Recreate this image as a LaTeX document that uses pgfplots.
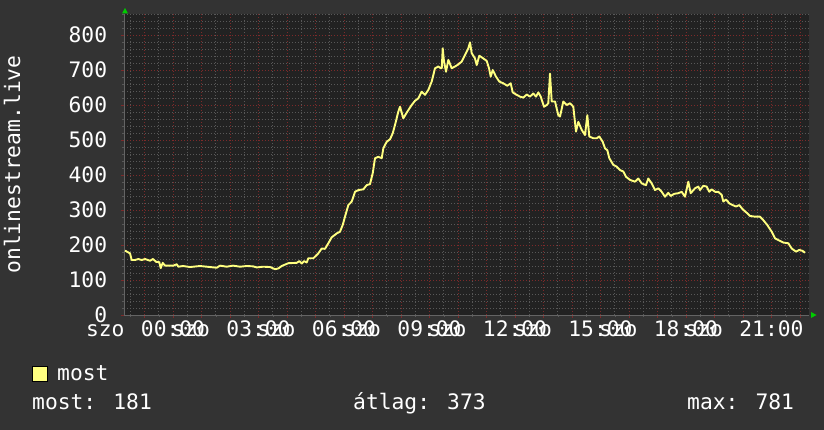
\documentclass[border=0pt]{standalone}
\usepackage{fontspec}
\usepackage{pgfplots}
\pgfplotsset{compat=1.18}
\setmainfont{DejaVu Sans Mono}

\definecolor{bg}{HTML}{333333}
\definecolor{plotbg}{HTML}{222222}
\definecolor{majgrid}{RGB}{125,42,42}
\definecolor{mingrid}{RGB}{88,88,88}
\definecolor{linecol}{HTML}{FFFF80}
\definecolor{arrowgreen}{HTML}{00CC00}

\newcommand\lbl{\fontsize{21.3bp}{25bp}\selectfont}
% weekday name overprinted to the left of each time label (rrdtool quirk)
\newcommand\szo[1]{\llap{szo\hspace{16.4bp}}#1}

\begin{document}
\begin{tikzpicture}
\path[use as bounding box, fill=bg] (0bp,0bp) rectangle (824bp,430bp);

\begin{axis}[
  at={(124bp,115bp)}, anchor=south west,
  scale only axis, width=685bp, height=301bp,
  xmin=-1.72, xmax=22.316, ymin=0, ymax=860,
  axis background/.style={fill=plotbg},
  axis x line*=bottom, axis y line*=left,
  axis line style={draw=plotbg!70!white},
  xtick={-1,0,...,22},
  xticklabels={{},{\szo{00:00}},{},{},{\szo{03:00}},{},{},{\szo{06:00}},{},{},
    {\szo{09:00}},{},{},{\szo{12:00}},{},{},{\szo{15:00}},{},{},{\szo{18:00}},{},{},
    {\szo{21:00}},{}},
  minor xtick={-1.5,-0.5,...,22},
  ytick={0,100,...,800},
  yticklabels={0,100,200,300,400,500,600,700,800},
  minor ytick={20,40,...,860},
  grid=both,
  major grid style={draw=majgrid, line width=0.8bp, dash pattern=on 1bp off 2bp},
  minor grid style={draw=mingrid, line width=0.8bp, dash pattern=on 1bp off 2bp},
  tick align=outside, major tick length=3bp, minor tick length=2bp,
  major tick style={draw=majgrid}, minor tick style={draw=mingrid},
  ticklabel style={font=\lbl, text=white, inner sep=0pt},
  xticklabel style={anchor=base, yshift=-19bp},
  yticklabel style={anchor=east, xshift=-13.7bp},
]
\addplot[color=linecol, line width=1.9bp, line join=round] coordinates {
(-1.684,184)(-1.509,176)(-1.449,157)(-1.333,157)(-1.218,160)(-1.098,157)
(-0.982,160)(-0.807,155)(-0.702,160)(-0.596,152)(-0.481,151)(-0.432,134)
(-0.361,149)(-0.281,141)(-0.105,141)(0.011,141)(0.130,145)(0.186,138)
(0.351,140)(0.596,137)(0.947,140)(1.182,138)(1.533,135)(1.649,141)
(1.884,138)(2.105,141)(2.351,138)(2.586,140)(2.807,139)(2.937,136)
(3.168,138)(3.404,137)(3.579,131)(3.695,133)(3.814,140)(4.046,148)
(4.340,149)(4.432,154)(4.516,147)(4.596,154)(4.691,150)(4.747,162)
(4.923,162)(5.098,176)(5.218,190)(5.333,189)(5.449,205)(5.568,222)
(5.744,233)(5.860,238)(5.954,257)(6.035,281)(6.151,314)(6.270,324)
(6.386,352)(6.502,357)(6.677,359)(6.796,371)(6.912,374)(7.007,405)
(7.088,448)(7.204,452)(7.323,448)(7.379,476)(7.498,495)(7.614,502)
(7.709,519)(7.789,543)(7.905,581)(7.965,595)(8.081,562)(8.221,581)
(8.375,600)(8.491,612)(8.607,619)(8.726,638)(8.842,629)(8.958,643)
(9.077,667)(9.193,705)(9.309,710)(9.393,705)(9.430,705)(9.463,762)
(9.509,724)(9.579,695)(9.660,729)(9.779,705)(9.895,710)(10.011,716)
(10.130,724)(10.246,743)(10.361,762)(10.421,779)(10.481,748)(10.596,733)
(10.656,714)(10.747,741)(10.888,733)(11.007,726)(11.088,705)(11.147,681)
(11.218,700)(11.333,681)(11.449,667)(11.589,662)(11.730,655)(11.849,662)
(11.919,636)(12.060,629)(12.175,624)(12.291,621)(12.411,630)(12.526,624)
(12.642,633)(12.737,624)(12.818,636)(12.902,624)(13.018,595)(13.112,600)
(13.168,605)(13.228,690)(13.288,610)(13.404,610)(13.519,571)(13.579,567)
(13.695,610)(13.814,600)(13.930,605)(14.046,595)(14.140,524)(14.221,552)
(14.340,529)(14.456,514)(14.537,571)(14.607,510)(14.747,505)(14.867,505)
(14.958,510)(15.077,495)(15.158,476)(15.239,471)(15.309,448)(15.449,429)
(15.568,424)(15.684,414)(15.800,410)(15.895,395)(16.035,386)(16.211,381)
(16.326,390)(16.446,376)(16.596,371)(16.677,390)(16.796,376)(16.912,357)
(17.028,362)(17.147,352)(17.263,338)(17.379,349)(17.463,340)(17.579,346)
(17.730,348)(17.849,352)(17.965,338)(18.081,381)(18.165,348)(18.316,362)
(18.432,367)(18.491,357)(18.607,369)(18.726,367)(18.818,352)(18.902,359)
(19.018,352)(19.133,352)(19.253,343)(19.309,324)(19.404,330)(19.519,319)
(19.638,314)(19.754,310)(19.870,314)(19.989,302)(20.130,292)(20.246,283)
(20.421,281)(20.596,281)(20.712,271)(20.853,257)(21.007,238)(21.123,219)
(21.239,214)(21.414,207)(21.589,205)(21.709,190)(21.860,181)(21.975,186)
(22.095,183)(22.175,178)
};
\end{axis}

% axis arrows
\fill[arrowgreen] (125bp,422bp) -- (122bp,416.5bp) -- (128bp,416.5bp) -- cycle;
\fill[arrowgreen] (816.5bp,115bp) -- (811bp,118bp) -- (811bp,112bp) -- cycle;

% vertical axis title
\node[font=\lbl, text=white, rotate=90, anchor=base, inner sep=0pt] at (20bp,265.5bp) {onlinestream.live};

% legend
\filldraw[fill=linecol, draw=black, line width=0.8bp] (32bp,49bp) rectangle (47bp,64bp);
\node[font=\lbl, text=white, anchor=base west, inner sep=0pt] at (57bp,49bp) {most};
\node[font=\lbl, text=white, anchor=base west, inner sep=0pt] at (32bp,21bp) {most: 181};
\node[font=\lbl, text=white, anchor=base west, inner sep=0pt] at (353bp,21bp) {átlag: 373};
\node[font=\lbl, text=white, anchor=base west, inner sep=0pt] at (687bp,21bp) {max: 781};
\end{tikzpicture}
\end{document}
